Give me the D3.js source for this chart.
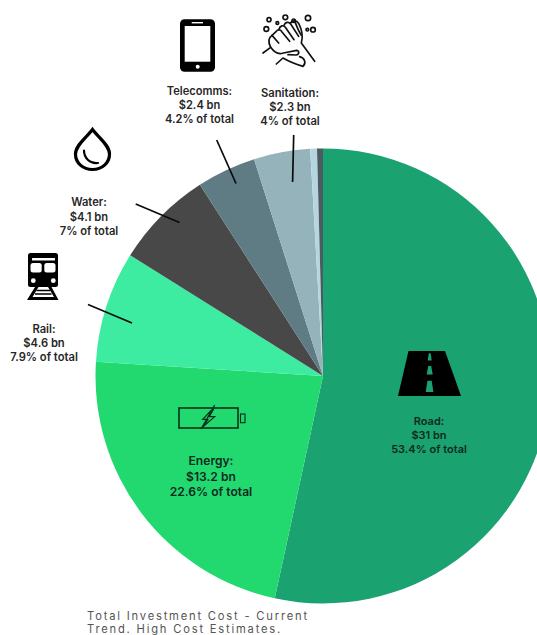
<!DOCTYPE html>
<html>
<head>
<meta charset="utf-8">
<script src="https://cdn.jsdelivr.net/npm/d3@7"></script>
<style>
  html, body { margin: 0; padding: 0; background: #fff; overflow: hidden; }
  svg { display: block; }
  text { font-family: Inter, "Open Sans", sans-serif; }
</style>
</head>
<body>
<svg id="chart" width="537" height="635"></svg>
<script>
const sectors = ["Road", "Energy", "Rail", "Water", "Telecomms", "Sanitation", "Other A", "Other B"];
const shares = [53.4, 22.6, 7.9, 7, 4.2, 4, 0.48, 0.42];
const costs = ["$31 bn", "$13.2 bn", "$4.6 bn", "$4.1 bn", "$2.4 bn", "$2.3 bn", "", ""];
const shareLabels = ["53.4% of total", "22.6% of total", "7.9% of total", "7% of total", "4.2% of total", "4% of total", "", ""];
const sliceColors = ["#1ba271", "#22d970", "#3deca1", "#484848", "#5f7c85", "#95b3ba", "#b6d6df", "#4b5b60"];

// label anchors and leader lines, per labelled sector
const labelPos = [[429, 425, 14, 11], [211, 465, 15.5, 12.1], [44, 333, 14, 11.2], [89, 206, 14.5, 11.2], [199.5, 95, 14, 11.1], [290, 97, 14, 11.2]];
const leaders = [null, null, [[88, 304.5], [132, 323]], [[135.7, 204], [179.5, 222.5]], [[216.7, 140], [236, 183.5]], [[293.7, 135], [292.6, 182]]];

const svg = d3.select("#chart");
const cx = 323, cy = 376, radius = 227.5;

const pie = d3.pie().sort(null).value(d => d);
const arc = d3.arc().innerRadius(0).outerRadius(radius);

svg.append("g").attr("transform", `translate(${cx},${cy})`)
  .selectAll("path")
  .data(pie(shares))
  .join("path")
  .attr("d", arc)
  .attr("fill", (d, i) => sliceColors[i]);

// leader lines
svg.append("g").selectAll("line")
  .data(leaders.filter(Boolean))
  .join("line")
  .attr("x1", d => d[0][0]).attr("y1", d => d[0][1])
  .attr("x2", d => d[1][0]).attr("y2", d => d[1][1])
  .attr("stroke", "#0b0b0b").attr("stroke-width", 1.7);

// three-line sector labels
sectors.slice(0, 6).forEach((name, i) => {
  const [x, y, lead, size] = labelPos[i];
  const t = svg.append("text")
    .attr("text-anchor", "middle")
    .attr("font-size", size)
    .attr("font-weight", 600)
    .attr("fill", i < 2 ? "#0f2a20" : "#262626");
  [name + ":", costs[i], shareLabels[i]].forEach((line, k) => {
    t.append("tspan").attr("x", x).attr("y", y + k * lead).text(line);
  });
});

// road icon
const road = svg.append("g");
road.append("path").attr("d", "M408.5 351H445L461 396H398Z").attr("fill", "#000");
road.selectAll("path.dash")
  .data(["M428.8 353.3H430.6L431.7 360.5H427.7Z", "M428.2 366H431.2L432.7 374.5H426.7Z", "M427.5 380.7H431.7L433.4 392H425.7Z"])
  .join("path").attr("class", "dash").attr("d", d => d).attr("fill", sliceColors[0]);

// battery icon
const battery = svg.append("g").attr("fill", "none").attr("stroke", "#06301a");
battery.append("rect").attr("x", 179).attr("y", 408).attr("width", 59).attr("height", 20).attr("stroke-width", 1.6);
battery.append("rect").attr("x", 240.5).attr("y", 414).attr("width", 4.5).attr("height", 8.7).attr("stroke-width", 1.1);
battery.append("path").attr("stroke-width", 1.2)
  .attr("d", "M214.7 405L201 429M211.5 410L202.7 419.3H208L203 426.7L214.7 416.7H209.3L213.7 409");

// water drop icon
const drop = svg.append("g").attr("fill", "none").attr("stroke", "#000").attr("stroke-linecap", "round");
drop.append("path").attr("stroke-width", 3.2)
  .attr("d", "M92.5 129.5C87 137 75.5 145 75.5 154C75.5 163 83 169.5 92.5 169.5C102 169.5 109.5 163 109.5 154C109.5 145 98 137 92.5 129.5Z");
drop.append("path").attr("stroke-width", 2.2).attr("d", "M84 150.5C84 158 90 164 98 163");

// train icon
const train = svg.append("g");
train.append("rect").attr("x", 28).attr("y", 253).attr("width", 30).attr("height", 34).attr("rx", 2.5).attr("fill", "#000");
train.selectAll("rect.pane")
  .data([[32, 258, 23, 2.6, 0.5], [30.5, 263, 11.2, 9.5, 2.5], [44.3, 263, 11.2, 9.5, 2.5]])
  .join("rect").attr("class", "pane")
  .attr("x", d => d[0]).attr("y", d => d[1]).attr("width", d => d[2]).attr("height", d => d[3]).attr("rx", d => d[4])
  .attr("fill", "#fff");
train.append("circle").attr("cx", 33.3).attr("cy", 280.7).attr("r", 2.4).attr("fill", "#fff");
train.append("circle").attr("cx", 53.3).attr("cy", 280.7).attr("r", 2.4).attr("fill", "#fff");
train.append("path").attr("fill", "#000")
  .attr("d", "M35 287H38.5L32.5 297H54L48 287H51.5L58.5 300H27Z");
train.append("path").attr("stroke", "#000").attr("stroke-width", 1.4)
  .attr("d", "M36.5 290.5H50M35 294H51.5");

// phone icon
const phone = svg.append("g");
phone.append("rect").attr("x", 180).attr("y", 19.3).attr("width", 35).attr("height", 52.4).attr("rx", 4.5).attr("fill", "#000");
phone.append("rect").attr("x", 184.7).attr("y", 26).attr("width", 25.6).attr("height", 35.7).attr("fill", "#fff");
phone.append("rect").attr("x", 191.7).attr("y", 22).attr("width", 11.3).attr("height", 1.4).attr("fill", "#fff");
phone.append("circle").attr("cx", 197.7).attr("cy", 66.7).attr("r", 2).attr("fill", "#fff");

// washing hands icon, drawn on a 3x grid
const hands = svg.append("g").attr("transform", "translate(258,8) scale(0.3333)")
  .attr("fill", "none").attr("stroke", "#111").attr("stroke-width", 5)
  .attr("stroke-linecap", "round").attr("stroke-linejoin", "round");
hands.selectAll("circle")
  .data([[33, 35, 6], [25, 63, 7], [58, 45, 4], [82, 28, 7], [107, 38, 5], [150, 30, 8], [165, 65, 7], [148, 65, 4]])
  .join("circle").attr("cx", d => d[0]).attr("cy", d => d[1]).attr("r", d => d[2]);
hands.selectAll("path")
  .data([
    "M15 135L38 118C30 102 30 90 42 82L62 105",
    "M42 82L55 70C60 62 68 65 72 72L95 100",
    "M62 66C66 52 76 50 82 58L108 95",
    "M78 52C82 42 92 40 98 48L122 85",
    "M97 46C102 36 116 36 122 46C132 65 136 85 130 105L170 160",
    "M112 44C118 60 122 70 130 82",
    "M38 118C50 135 62 140 76 135L116 127C125 130 124 140 114 141L90 140",
    "M55 168L75 150C92 160 118 170 135 175C146 165 140 150 125 146"
  ])
  .join("path").attr("d", d => d);

// source note along the lower window edge
const note = svg.append("text")
  .attr("font-size", 11.2).attr("font-weight", 400).attr("fill", "#555").attr("letter-spacing", 1.8);
note.append("tspan").attr("x", 87).attr("y", 620).text("Total Investment Cost - Current");
note.append("tspan").attr("x", 87).attr("y", 632.5).text("Trend. High Cost Estimates.");
</script>
</body>
</html>
